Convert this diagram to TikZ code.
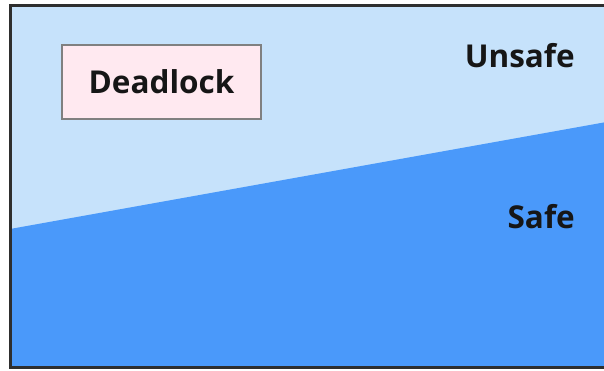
\documentclass[tikz,border=0pt]{standalone}
\usepackage{fontspec}
\setmainfont{Open Sans}
\definecolor{lightblue}{HTML}{C6E2FB}
\definecolor{darkblue}{HTML}{4A99FA}
\definecolor{pinkfill}{HTML}{FFE9F0}
\definecolor{framecol}{HTML}{2E2E2E}
\definecolor{boxborder}{HTML}{808080}
\definecolor{txt}{HTML}{161616}
\tikzset{
  lbl/.style={font=\fontsize{31.5}{38}\selectfont\bfseries, text=txt, inner sep=0pt},
  dlbox/.style={draw=boxborder, line width=1.3pt, fill=pinkfill, minimum width=199pt, minimum height=74pt, inner sep=0pt, font=\fontsize{31.5}{38}\selectfont\bfseries, text=txt}
}
\begin{document}
\begin{tikzpicture}[x=1pt,y=-1pt]
\useasboundingbox (0,0) rectangle (604,370);
\fill[white] (0,0) rectangle (604,370);
\begin{scope}
\clip (0,0) rectangle (604,370);
\fill[lightblue] (10,5) rectangle (612,367);
\fill[darkblue] (10,229) -- (612,121) -- (612,367) -- (10,367) -- cycle;
\draw[framecol, line width=3pt] (10,5) rectangle (612,367);
\end{scope}
\node[dlbox] (dl) at (161.5,82) {Deadlock};
\node[lbl, anchor=base east] (unsafe) at (575,67.5) {Unsafe};
\node[lbl, anchor=base east] (safe) at (575,228) {Safe};
\end{tikzpicture}
\end{document}
